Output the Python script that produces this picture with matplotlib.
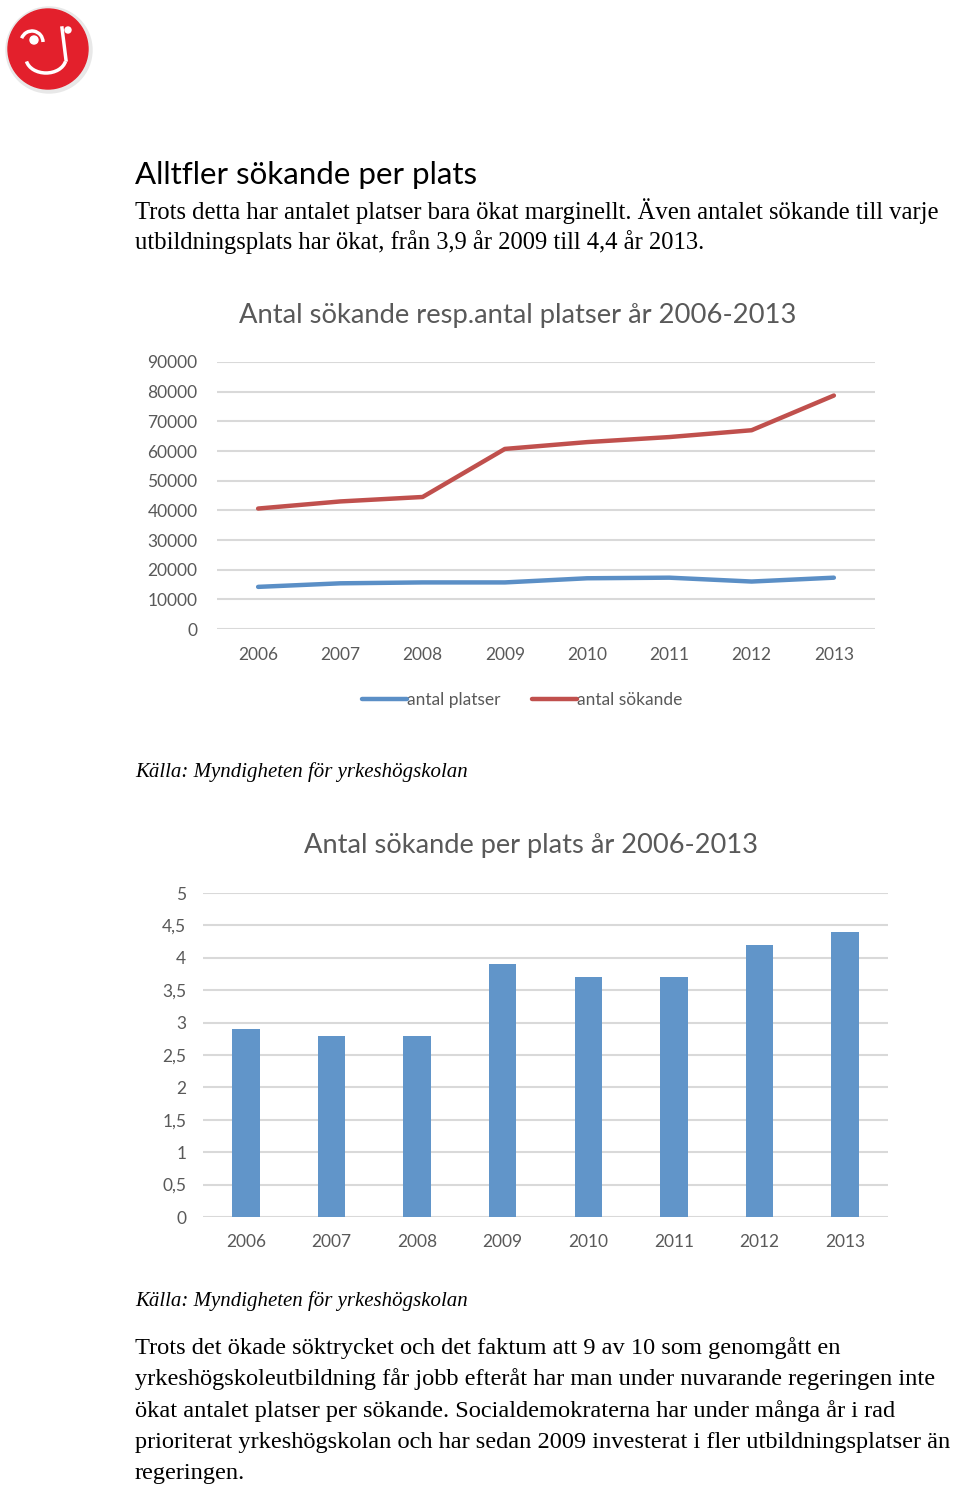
import matplotlib
matplotlib.use("Agg")
import matplotlib.pyplot as plt
from matplotlib.patches import Circle, Arc

# data
years = ["2006", "2007", "2008", "2009", "2010", "2011", "2012", "2013"]
antal_platser = [14200, 15400, 15700, 15700, 17100, 17300, 16000, 17300]
antal_sokande = [40600, 43000, 44500, 60700, 63000, 64700, 67000, 78700]
per_plats = [2.9, 2.8, 2.8, 3.9, 3.7, 3.7, 4.2, 4.4]

W, H = 960, 1490
BLUE = "#5B8FC6"
RED = "#C0504D"
BAR = "#6195C9"
GRID = "#D9D9D9"
TICK = "#595959"
SANS = ["Lato", "DejaVu Sans"]
SERIF = ["Liberation Serif", "DejaVu Serif"]

fig = plt.figure(figsize=(W / 100, H / 100), dpi=100)


def fy(y):
    return 1 - y / H


def rect(l, t, r, b):
    return [l / W, 1 - b / H, (r - l) / W, (b - t) / H]


# logo (rough rose)
lax = fig.add_axes(rect(0, 0, 100, 100))
lax.set_xlim(0, 100)
lax.set_ylim(100, 0)
lax.axis("off")
lax.add_patch(Circle((49, 50), 43, color="#E8E8E8"))
lax.add_patch(Circle((48, 49), 40, color="#E3202C"))
lax.add_patch(Arc((46, 58), 40, 30, theta1=10, theta2=170, color="white", lw=2.5))
lax.add_patch(Arc((32, 42), 22, 22, theta1=200, theta2=360, color="white", lw=2.5))
lax.plot([62, 66], [28, 60], color="white", lw=2.5)
lax.add_patch(Circle((68, 30), 3, color="white"))
lax.add_patch(Circle((34, 40), 4, color="white"))

# heading and intro
fig.text(135 / W, fy(175), "Alltfler sökande per plats", family=SANS,
         fontsize=22.5, va="center", ha="left", color="black")
fig.text(135 / W, fy(211), "Trots detta har antalet platser bara ökat marginellt. "
         "Även antalet sökande till varje", family=SERIF, fontsize=17.7,
         va="center", ha="left")
fig.text(135 / W, fy(242), "utbildningsplats har ökat, från 3,9 år 2009 till 4,4 år 2013.",
         family=SERIF, fontsize=17.7, va="center", ha="left")

# line chart
ax1 = fig.add_axes(rect(217, 362, 875, 629))
x = range(len(years))
l1, = ax1.plot(x, antal_platser, color=BLUE, lw=3.2, solid_capstyle="round",
               label="antal platser")
l2, = ax1.plot(x, antal_sokande, color=RED, lw=3.2, solid_capstyle="round",
               label="antal sökande")
ax1.set_xlim(-0.5, 7.5)
ax1.set_ylim(0, 90000)
ax1.set_yticks(range(0, 90001, 10000))
ax1.set_yticklabels([str(v) for v in range(0, 90001, 10000)])
ax1.set_xticks(list(x))
ax1.set_xticklabels(years)
ax1.grid(axis="y", color=GRID, lw=1.5)
ax1.set_axisbelow(True)
for s in ax1.spines.values():
    s.set_visible(False)
ax1.tick_params(length=0, labelsize=12.5, colors=TICK, pad=14)
ax1.tick_params(axis="x", pad=13)
for t in ax1.get_xticklabels() + ax1.get_yticklabels():
    t.set_family(SANS)
fig.text(518 / W, fy(316), "Antal sökande resp.antal platser år 2006-2013",
         family=SANS, fontsize=19.7, color=TICK, ha="center", va="center")
fig.legend(handles=[l1, l2], loc="center", bbox_to_anchor=(522 / W, fy(700)),
           ncol=2, frameon=False, handlelength=2.6, handletextpad=0.0,
           columnspacing=1.8, prop={"family": SANS, "size": 12.5},
           labelcolor=TICK)

fig.text(135 / W, fy(772), "Källa: Myndigheten för yrkeshögskolan", family=SERIF,
         style="italic", fontsize=15, ha="left", va="center")

# bar chart
ax2 = fig.add_axes(rect(203, 893, 888, 1217))
ax2.bar(list(x), per_plats, width=0.32, color=BAR)
ax2.set_xlim(-0.5, 7.5)
ax2.set_ylim(0, 5)
yt = [i * 0.5 for i in range(11)]
ax2.set_yticks(yt)
ax2.set_yticklabels([("%g" % v).replace(".", ",") for v in yt])
ax2.set_xticks(list(x))
ax2.set_xticklabels(years)
ax2.grid(axis="y", color=GRID, lw=1.5)
ax2.set_axisbelow(True)
for s in ax2.spines.values():
    s.set_visible(False)
ax2.tick_params(length=0, labelsize=12.5, colors=TICK, pad=12)
ax2.tick_params(axis="x", pad=12)
for t in ax2.get_xticklabels() + ax2.get_yticklabels():
    t.set_family(SANS)
fig.text(531 / W, fy(846), "Antal sökande per plats år 2006-2013",
         family=SANS, fontsize=19.6, color=TICK, ha="center", va="center")

fig.text(135 / W, fy(1301), "Källa: Myndigheten för yrkeshögskolan", family=SERIF,
         style="italic", fontsize=15, ha="left", va="center")

body = [
    "Trots det ökade söktrycket och det faktum att 9 av 10 som genomgått en",
    "yrkeshögskoleutbildning får jobb efteråt har man under nuvarande regeringen inte",
    "ökat antalet platser per sökande. Socialdemokraterna har under många år i rad",
    "prioriterat yrkeshögskolan och har sedan 2009 investerat i fler utbildningsplatser än",
    "regeringen.",
]
for i, line in enumerate(body):
    fig.text(135 / W, fy(1348 + i * 31.5), line, family=SERIF, fontsize=17.6,
             ha="left", va="center")

fig.savefig("out.png", dpi=100)
